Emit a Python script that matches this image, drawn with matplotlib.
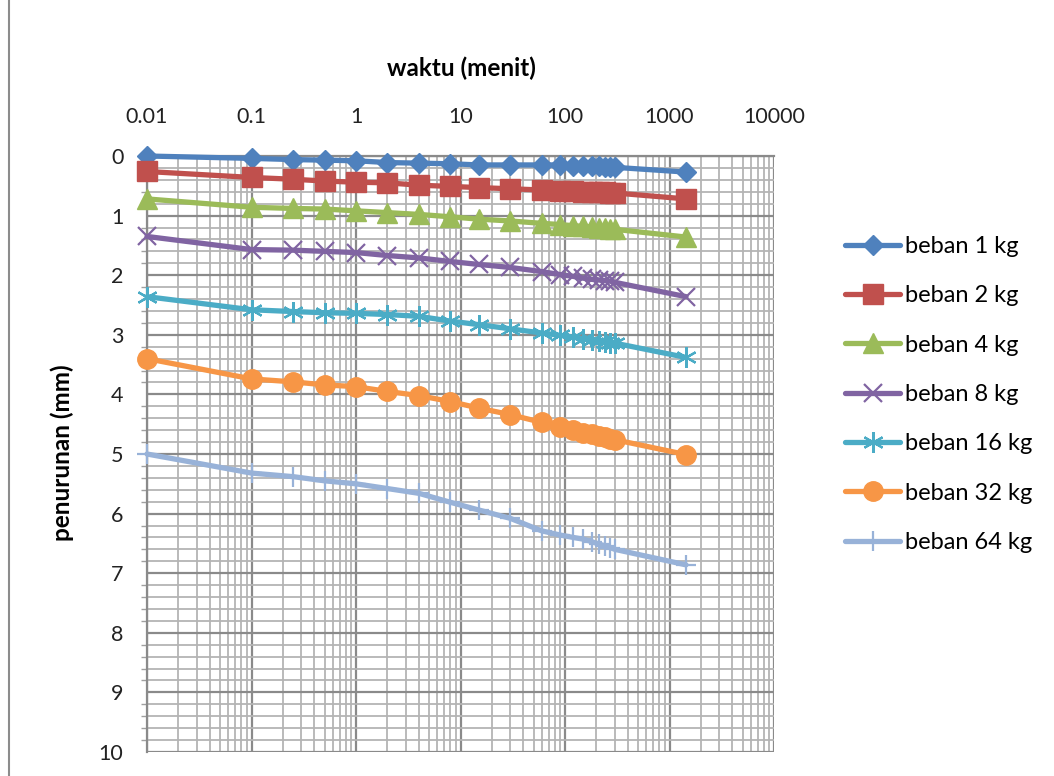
import numpy as np
import matplotlib
matplotlib.use("Agg")
import matplotlib.pyplot as plt
from matplotlib.ticker import LogLocator, NullFormatter, MultipleLocator, FixedLocator
from matplotlib.lines import Line2D

plt.rcParams['font.family'] = ['Lato', 'DejaVu Sans']

# waktu pembacaan (menit); 0.01 dipakai sebagai pengganti t = 0 pada skala log
waktu = [0.01, 0.1, 0.25, 0.5, 1, 2, 4, 8, 15, 30, 60, 90, 120, 150, 180, 210, 240, 270, 300, 1440]

# penurunan (mm) untuk tiap beban
beban_1 = [0.00, 0.04, 0.06, 0.07, 0.08, 0.11, 0.12, 0.13, 0.15, 0.15,
           0.15, 0.15, 0.16, 0.16, 0.17, 0.17, 0.18, 0.18, 0.19, 0.27]
beban_2 = [0.26, 0.36, 0.39, 0.42, 0.44, 0.45, 0.49, 0.51, 0.53, 0.55,
           0.57, 0.58, 0.59, 0.60, 0.60, 0.61, 0.61, 0.62, 0.62, 0.72]
beban_4 = [0.72, 0.86, 0.88, 0.89, 0.92, 0.95, 0.98, 1.02, 1.06, 1.09,
           1.13, 1.15, 1.17, 1.18, 1.19, 1.20, 1.21, 1.22, 1.23, 1.36]
beban_8 = [1.35, 1.57, 1.58, 1.60, 1.62, 1.67, 1.71, 1.77, 1.82, 1.87,
           1.94, 1.99, 2.02, 2.05, 2.07, 2.08, 2.09, 2.10, 2.12, 2.36]
beban_16 = [2.36, 2.58, 2.61, 2.63, 2.64, 2.66, 2.69, 2.77, 2.83, 2.90,
            2.97, 3.01, 3.04, 3.07, 3.09, 3.10, 3.12, 3.13, 3.14, 3.38]
beban_32 = [3.40, 3.74, 3.79, 3.84, 3.87, 3.95, 4.02, 4.12, 4.23, 4.34,
            4.47, 4.55, 4.60, 4.64, 4.67, 4.70, 4.72, 4.74, 4.76, 5.01]
beban_64 = [5.00, 5.32, 5.38, 5.45, 5.50, 5.58, 5.66, 5.81, 5.94, 6.08,
            6.29, 6.36, 6.40, 6.43, 6.47, 6.51, 6.54, 6.57, 6.60, 6.86]

seri = [
    ("beban 1 kg", beban_1, "#4F81BD", "D", 10.5, 1),
    ("beban 2 kg", beban_2, "#C0504D", "s", 14, 1),
    ("beban 4 kg", beban_4, "#9BBB59", "^", 14, 1),
    ("beban 8 kg", beban_8, "#8064A2", "x", 12.5, 1.6),
    ("beban 16 kg", beban_16, "#4BACC6", (6, 2, 0), 15, 1.6),
    ("beban 32 kg", beban_32, "#F79646", "o", 14, 1),
    ("beban 64 kg", beban_64, "#98B2D8", "+", 15, 1.6),
]

W, H = 1054, 776
fig = plt.figure(figsize=(W / 100, H / 100), dpi=100)
ax = fig.add_axes([147 / W, 1 - 752 / H, (774 - 147) / W, (752 - 156) / H])

for nama, y, warna, mk, ms, mew in seri:
    ax.plot(waktu, y, color=warna, lw=3.8, marker=mk, markersize=ms,
            markeredgewidth=mew, markerfacecolor=warna, markeredgecolor=warna,
            label=nama, solid_capstyle='round', clip_on=False, zorder=3)

ax.set_xscale('log')
ax.set_xlim(0.01, 10000)
ax.set_ylim(10, 0)

ax.xaxis.tick_top()
ax.xaxis.set_major_locator(FixedLocator([0.01, 0.1, 1, 10, 100, 1000, 10000]))
ax.set_xticklabels(['0.01', '0.1', '1', '10', '100', '1000', '10000'])
ax.xaxis.set_minor_locator(LogLocator(base=10, subs=np.arange(2, 10), numticks=20))
ax.xaxis.set_minor_formatter(NullFormatter())
ax.set_yticks(range(11))
ax.yaxis.set_minor_locator(MultipleLocator(0.2))

ax.tick_params(axis='x', which='both', length=0, pad=21, labelsize=15.5, colors='#222222')
ax.tick_params(axis='y', which='major', length=0, pad=17, labelsize=15.5, colors='#222222')
ax.tick_params(axis='y', which='minor', length=4, width=1, color='#A0A0A0', direction='out')

ax.grid(True, which='major', color='#8A8A8A', lw=1.6)
ax.grid(True, which='minor', color='#B4B4B4', lw=1.3)
ax.set_axisbelow(True)

for s in ['right', 'bottom']:
    ax.spines[s].set_visible(False)
for s in ['left', 'top']:
    ax.spines[s].set_color('#8A8A8A')
    ax.spines[s].set_linewidth(1.6)

fig.text(461 / W, 1 - 68 / H, 'waktu (menit)', ha='center', va='center',
         fontsize=17.5, fontweight='bold')
fig.text(62 / W, 1 - 453 / H, 'penurunan (mm)', ha='center', va='center',
         rotation=90, fontsize=17.5, fontweight='bold')

fig.legend(loc='upper left', bbox_to_anchor=(845 / W, 1 - 236 / H), frameon=False,
           fontsize=17, numpoints=1, handlelength=2.35, handletextpad=0.2,
           labelspacing=1.2, borderaxespad=0, borderpad=0)

# garis tepi kiri area grafik
fig.add_artist(Line2D([9 / W, 9 / W], [0, 1], color='#8C8C8C', lw=1.5))

fig.savefig('out.png', dpi=100)
